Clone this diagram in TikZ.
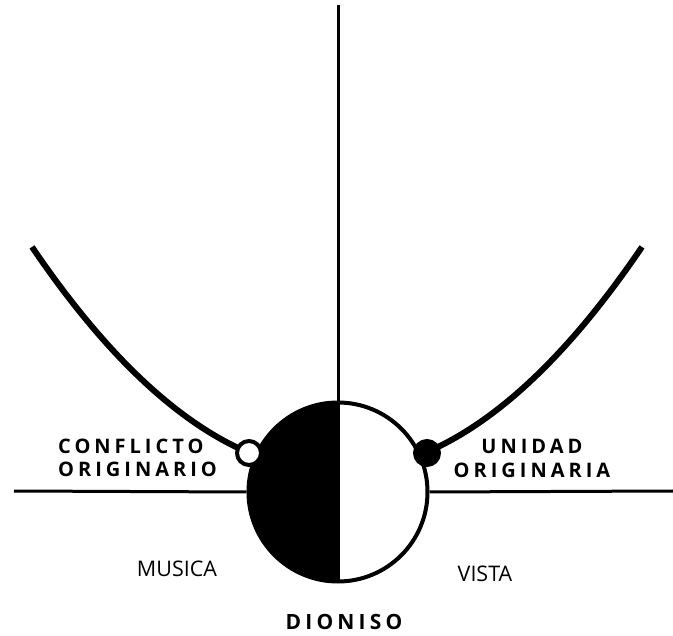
\documentclass[tikz,border=0pt]{standalone}
\usepackage{fontspec}
\setmainfont{Open Sans}
\newfontfamily\spaced[LetterSpace=20]{Open Sans}
\tikzset{
  lbl/.style={inner sep=0, font=\spaced\bfseries\fontsize{20}{20}\selectfont},
  bigl/.style={inner sep=0, font=\spaced\bfseries\fontsize{21}{21}\selectfont},
  plainlbl/.style={inner sep=0, font=\fontsize{21.5}{21.5}\selectfont},
  thin/.style={line width=3},
  curve/.style={line width=6},
}
\begin{document}
\begin{tikzpicture}[x=1pt,y=-1pt]
\useasboundingbox (0,0) rectangle (673,636);
\coordinate (c) at (338,492);
\coordinate (top) at (338,5);
\coordinate (hl) at (14,491);
\coordinate (hr) at (673,491);
% left half filled
\begin{scope}
\clip (240,395) rectangle (338,595);
\fill (c) circle[radius=91];
\end{scope}
\node[circle, draw, line width=4, minimum size=179, inner sep=0] (main) at (c) {};
\draw[thin] (top) -- (main.south);
\draw[thin] (hl) -- (main.west);
\draw[thin] (main.east) -- (hr);
% curves
\draw[curve] plot[domain=32:249, samples=60] (\x,{471.6-24.15*((\x-337)/100)^2});
\draw[curve] plot[domain=427:642, samples=60] (\x,{471.6-24.15*((\x-337)/100)^2});
\node[circle, draw, fill=white, line width=4, minimum size=24, inner sep=0] (sl) at (249,453) {};
\node[circle, draw, fill=black, line width=4, minimum size=24, inner sep=0] (sr) at (427,453) {};
% labels
\node[lbl, anchor=base west] (cf1) at (58,454) {CONFLICTO};
\node[lbl, anchor=base west] (cf2) at (58,477) {ORIGINARIO};
\node[lbl, anchor=base] (un1) at (532,454) {UNIDAD};
\node[lbl, anchor=base] (un2) at (532,478) {ORIGINARIA};
\node[plainlbl, anchor=base] (mu) at (177,577) {MUSICA};
\node[plainlbl, anchor=base] (vi) at (485,582) {VISTA};
\node[bigl, anchor=base] (di) at (344,630) {DIONISO};
\end{tikzpicture}
\end{document}
